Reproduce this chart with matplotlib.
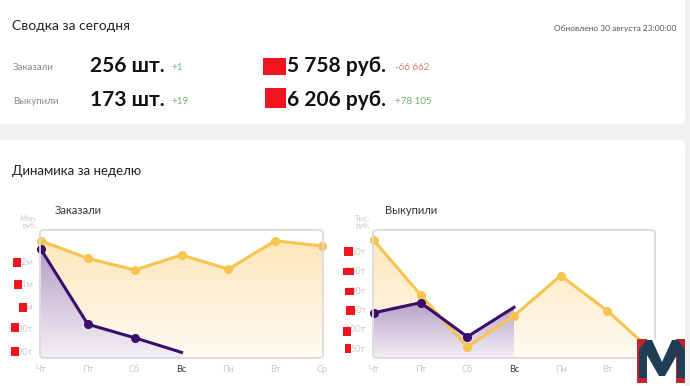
import numpy as np
import matplotlib.pyplot as plt
from matplotlib.patches import FancyBboxPatch, Polygon, Rectangle

plt.rcParams['font.family'] = ['Lato', 'DejaVu Sans']

W, H = 690, 386

days = ['Чт', 'Пт', 'Сб', 'Вс', 'Пн', 'Вт', 'Ср']

# Заказали, тыс. руб.
ord_prev = [1290, 1212, 1160, 1227, 1164, 1290, 1267]
ord_cur = [1252, 919, 859, 794]
ord_ticks = [800, 900, 1000, 1100, 1200]
ord_tick_labels = ['800т', '900т', '1м', '1,1м', '1,2м']

# Выкупили, тыс. руб.
buy_prev = [329, 188, 54, 134, 238, 147, 38]
buy_cur = [142, 168, 80, 156]
buy_ticks = [50, 100, 150, 200, 250, 300]
buy_tick_labels = ['50т', '100т', '150т', '200т', '250т', '300т']

summary_rows = ['Заказали', 'Выкупили']
summary_qty = ['256 шт.', '173 шт.']
summary_qty_delta = ['+1', '+19']
summary_sum = ['5 758 руб.', '6 206 руб.']
summary_sum_delta = ['-66 662', '+78 105']

ORANGE = '#f6c44f'
PURPLE = '#3a0d6b'
GREEN = '#6ab56a'
RED = '#e07878'
TICK = '#c9c9c9'


def px_axes(fig, x0, y0, x1, y1):
    return fig.add_axes([x0 / W, 1 - y1 / H, (x1 - x0) / W, (y1 - y0) / H])


def grad_fill(ax, x, y, ybot, c_top, c_bot, z):
    x = np.asarray(x, float)
    y = np.asarray(y, float)
    verts = np.vstack([np.column_stack([x, y]), [[x[-1], ybot], [x[0], ybot]]])
    poly = Polygon(verts, closed=True, facecolor='none', edgecolor='none')
    ax.add_patch(poly)
    top = np.array(plt.matplotlib.colors.to_rgb(c_top))
    bot = np.array(plt.matplotlib.colors.to_rgb(c_bot))
    t = np.linspace(0, 1, 256)[:, None]
    grad = (bot * (1 - t) + top * t)[:, None, :]
    img = ax.imshow(grad, extent=[x[0], x[-1], ybot, y.max()], origin='lower',
                    aspect='auto', zorder=z, interpolation='bicubic')
    img.set_clip_path(poly)


def chart(fig, box, prev, cur, ylim, ticks, labels):
    ax = px_axes(fig, *box)
    ax.set_facecolor('none')
    x = np.arange(len(days))
    grad_fill(ax, x, prev, ylim[0], '#fde7bb', '#fffbf3', 1)
    xc = np.arange(len(cur))
    grad_fill(ax, xc, cur, ylim[0], '#b6a0c6', '#f4f0f6', 2)
    ax.plot(x, prev, color=ORANGE, lw=2.2, marker='o', ms=5.5, zorder=3, clip_on=False)
    ax.plot(xc, cur, color=PURPLE, lw=2.2, zorder=4, clip_on=False)
    ax.plot(xc[:-1], cur[:-1], 'o', color=PURPLE, ms=5.5, zorder=4, clip_on=False)
    ax.set_xlim(-0.02, len(days) - 0.98)
    ax.set_ylim(*ylim)
    for s in ax.spines.values():
        s.set_visible(False)
    ax.add_patch(FancyBboxPatch((0, 0), 1, 1, boxstyle='round,pad=0,rounding_size=0.02',
                                transform=ax.transAxes, fill=False, ec='#dadada', lw=1.3,
                                zorder=5, clip_on=False))
    ax.set_xticks(x)
    ax.set_xticklabels(days, fontsize=6.5, color=TICK)
    ax.get_xticklabels()[3].set_color('#333333')
    ax.set_yticks(ticks)
    ax.set_yticklabels(labels, fontsize=6.5, color=TICK)
    ax.tick_params(length=0, pad=5)
    return ax


fig = plt.figure(figsize=(W / 100, H / 100), dpi=100)
fig.patch.set_facecolor('#f1f1f1')
bg = fig.add_axes([0, 0, 1, 1])
bg.set_xlim(0, W)
bg.set_ylim(H, 0)
bg.axis('off')

# cards
bg.add_patch(FancyBboxPatch((-6, -6), 691, 130, boxstyle='round,pad=0,rounding_size=5',
                            fc='white', ec='none'))
bg.add_patch(FancyBboxPatch((-6, 140), 691, 260, boxstyle='round,pad=0,rounding_size=5',
                            fc='white', ec='none'))

bg.text(12, 26, 'Сводка за сегодня', fontsize=10, color='#222222', va='center')
bg.text(676, 28, 'Обновлено 30 августа 23:00:00', fontsize=6, color='#555555',
        va='center', ha='right')

for i, yy in enumerate([66, 100]):
    bg.text(13, yy + 2, summary_rows[i], fontsize=7, color='#8a8a8a', va='center')
    bg.text(90, yy, summary_qty[i], fontsize=15, fontweight='bold', color='#111111',
            va='center')
    bg.text(171, yy + 1, summary_qty_delta[i], fontsize=7, color=GREEN, va='center')
    bg.text(287, yy, summary_sum[i], fontsize=15, fontweight='bold', color='#111111',
            va='center')
    bg.text(395, yy + 1, summary_sum_delta[i], fontsize=7,
            color=RED if summary_sum_delta[i].startswith('-') else GREEN, va='center')
# redaction blobs
bg.add_patch(Rectangle((263, 58), 23, 17, fc='#f0141e', ec='none'))
bg.add_patch(Rectangle((265, 88), 21, 20, fc='#f0141e', ec='none'))

bg.text(12, 171, 'Динамика за неделю', fontsize=9.5, color='#222222', va='center')

bg.text(55, 210, 'Заказали', fontsize=8, color='#333333', va='center')
bg.text(385, 210, 'Выкупили', fontsize=8, color='#333333', va='center')
bg.text(37, 222, 'Млн.\nруб.', fontsize=5.5, color=TICK, va='center', ha='right',
        linespacing=1.1)
bg.text(370, 222, 'Тыс.\nруб.', fontsize=5.5, color=TICK, va='center', ha='right',
        linespacing=1.1)

chart(fig, (40, 230, 323, 358), ord_prev, ord_cur, (769, 1338), ord_ticks, ord_tick_labels)
chart(fig, (373, 230, 655, 358), buy_prev, buy_cur, (25, 356), buy_ticks, buy_tick_labels)

# overlay layer for redactions and logo
top = fig.add_axes([0, 0, 1, 1])
top.set_xlim(0, W)
top.set_ylim(H, 0)
top.axis('off')
top.patch.set_alpha(0)
for cx, cy, w, h in [(17, 262, 8, 9), (18, 284, 8, 9), (23, 307, 8, 9), (15, 327, 8, 9),
                     (15, 351, 8, 9), (348, 251, 9, 9), (348, 271, 11, 7), (349, 291, 9, 7),
                     (350, 310, 9, 9), (347, 331, 8, 9), (348, 348, 6, 9)]:
    top.add_patch(Rectangle((cx - w / 2, cy - h / 2), w, h, fc='#f0141e', ec='none', zorder=10))

# logo
top.add_patch(Rectangle((637, 339), 48, 44, fc='#c0262d', ec='none', zorder=10))
top.add_patch(Rectangle((647, 339), 29, 44, fc='white', ec='none', zorder=10))
top.add_patch(Polygon([(639, 378), (639, 350), (646, 340), (652, 340), (662, 362),
                       (672, 340), (678, 340), (685, 350), (685, 378), (677, 378),
                       (677, 355), (665, 376), (659, 376), (647, 355), (647, 378)],
                      closed=True, fc='#1f3e55', ec='none', zorder=11))

fig.savefig('out.png', dpi=100, facecolor=fig.get_facecolor())
